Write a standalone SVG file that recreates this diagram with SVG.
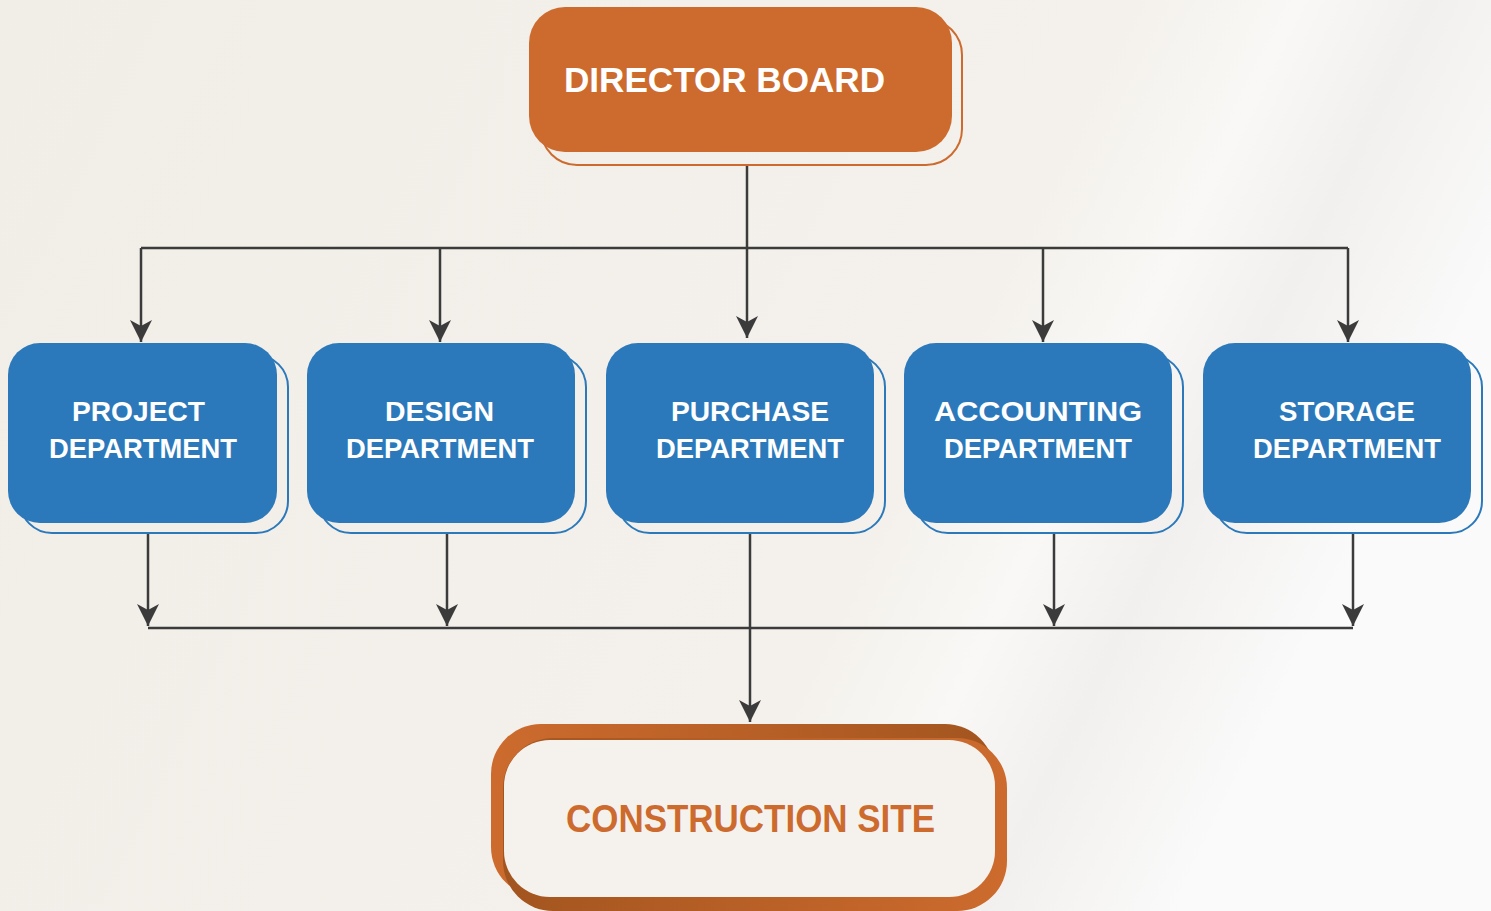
<svg xmlns="http://www.w3.org/2000/svg" width="1491" height="911" viewBox="0 0 1491 911">
  <defs>
    <linearGradient id="bg" x1="0" y1="0" x2="1" y2="0.3">
      <stop offset="0" stop-color="#f1ede7"/>
      <stop offset="0.7" stop-color="#f4f1ec"/>
      <stop offset="0.8" stop-color="#f9f8f6"/>
      <stop offset="0.88" stop-color="#f2f0ee"/>
      <stop offset="1" stop-color="#fafafa"/>
    </linearGradient>
    <linearGradient id="gTop" x1="0" y1="0" x2="1" y2="0">
      <stop offset="0" stop-color="#cd6b2e"/>
      <stop offset="1" stop-color="#a3551f"/>
    </linearGradient>
    <linearGradient id="gBot" x1="0" y1="0" x2="1" y2="0">
      <stop offset="0" stop-color="#a3551f"/>
      <stop offset="1" stop-color="#cd6b2e"/>
    </linearGradient>
    <marker id="arr" markerUnits="userSpaceOnUse" markerWidth="26" markerHeight="26" viewBox="-24 -13 26 26" refX="0" refY="0" orient="auto">
      <path d="M0,0 L-22,-11 L-16,0 L-22,11 Z" fill="#3b3b3b"/>
    </marker>
    <style>
      .blue { fill: #2b79ba; }
      .blueOut { fill: none; stroke: #2b79ba; stroke-width: 2; }
      .lbl { font-family: "Liberation Sans", Arial, sans-serif; font-weight: bold; fill: #ffffff; font-size: 28px; text-anchor: middle; }
      .conn { fill: none; stroke: #3b3b3b; stroke-width: 2.5; }
    </style>
  </defs>

  <rect x="0" y="0" width="1491" height="911" fill="url(#bg)"/>

  <g id="connectors">
    <path class="conn" d="M747,166 V248"/>
    <path class="conn" d="M141,248 H1348"/>
    <path class="conn" d="M141,248 V342" marker-end="url(#arr)"/>
    <path class="conn" d="M440,248 V342" marker-end="url(#arr)"/>
    <path class="conn" d="M747,248 V338" marker-end="url(#arr)"/>
    <path class="conn" d="M1043,248 V342" marker-end="url(#arr)"/>
    <path class="conn" d="M1348,248 V342" marker-end="url(#arr)"/>
    <path class="conn" d="M148,534 V626" marker-end="url(#arr)"/>
    <path class="conn" d="M447,534 V626" marker-end="url(#arr)"/>
    <path class="conn" d="M1054,534 V626" marker-end="url(#arr)"/>
    <path class="conn" d="M1353,534 V626" marker-end="url(#arr)"/>
    <path class="conn" d="M148,628 H1353"/>
    <path class="conn" d="M750,534 V722" marker-end="url(#arr)"/>
  </g>

  <g id="director-board">
    <rect x="541" y="19" width="421" height="146" rx="36" fill="none" stroke="#cd6b2e" stroke-width="2"/>
    <rect x="529" y="7" width="423" height="145" rx="36" fill="#cd6b2e"/>
    <text x="564" y="92" font-family="'Liberation Sans', Arial, sans-serif" font-weight="bold" font-size="35" fill="#ffffff" textLength="321" lengthAdjust="spacingAndGlyphs">DIRECTOR BOARD</text>
  </g>

  <g id="project-department">
    <rect class="blueOut" x="20" y="355" width="268" height="178" rx="32"/>
    <rect class="blue" x="8" y="343" width="269" height="180" rx="32"/>
    <text class="lbl" x="138.5" y="421" textLength="133" lengthAdjust="spacingAndGlyphs">PROJECT</text>
    <text class="lbl" x="143" y="458" textLength="188" lengthAdjust="spacingAndGlyphs">DEPARTMENT</text>
  </g>

  <g id="design-department">
    <rect class="blueOut" x="319" y="355" width="267" height="178" rx="32"/>
    <rect class="blue" x="307" y="343" width="268" height="180" rx="32"/>
    <text class="lbl" x="439.5" y="421" textLength="109" lengthAdjust="spacingAndGlyphs">DESIGN</text>
    <text class="lbl" x="440" y="458" textLength="188" lengthAdjust="spacingAndGlyphs">DEPARTMENT</text>
  </g>

  <g id="purchase-department">
    <rect class="blueOut" x="618" y="355" width="267" height="178" rx="32"/>
    <rect class="blue" x="606" y="343" width="268" height="180" rx="32"/>
    <text class="lbl" x="750" y="421" textLength="158" lengthAdjust="spacingAndGlyphs">PURCHASE</text>
    <text class="lbl" x="750" y="458" textLength="188" lengthAdjust="spacingAndGlyphs">DEPARTMENT</text>
  </g>

  <g id="accounting-department">
    <rect class="blueOut" x="916" y="355" width="267" height="178" rx="32"/>
    <rect class="blue" x="904" y="343" width="268" height="180" rx="32"/>
    <text class="lbl" x="1038" y="421" textLength="208" lengthAdjust="spacingAndGlyphs">ACCOUNTING</text>
    <text class="lbl" x="1038" y="458" textLength="188" lengthAdjust="spacingAndGlyphs">DEPARTMENT</text>
  </g>

  <g id="storage-department">
    <rect class="blueOut" x="1215" y="355" width="267" height="178" rx="32"/>
    <rect class="blue" x="1203" y="343" width="268" height="180" rx="32"/>
    <text class="lbl" x="1347" y="421" textLength="136" lengthAdjust="spacingAndGlyphs">STORAGE</text>
    <text class="lbl" x="1347" y="458" textLength="188" lengthAdjust="spacingAndGlyphs">DEPARTMENT</text>
  </g>

  <g id="construction-site">
    <rect x="491" y="724" width="504" height="173" rx="50" fill="url(#gTop)"/>
    <rect x="503" y="738" width="504" height="173" rx="50" fill="url(#gBot)"/>
    <rect x="504" y="740" width="491" height="157" rx="46" fill="#f5f2ee"/>
    <text x="750.5" y="832" text-anchor="middle" font-family="'Liberation Sans', Arial, sans-serif" font-weight="bold" font-size="38" fill="#cd6b2e" textLength="369" lengthAdjust="spacingAndGlyphs">CONSTRUCTION SITE</text>
  </g>
</svg>
